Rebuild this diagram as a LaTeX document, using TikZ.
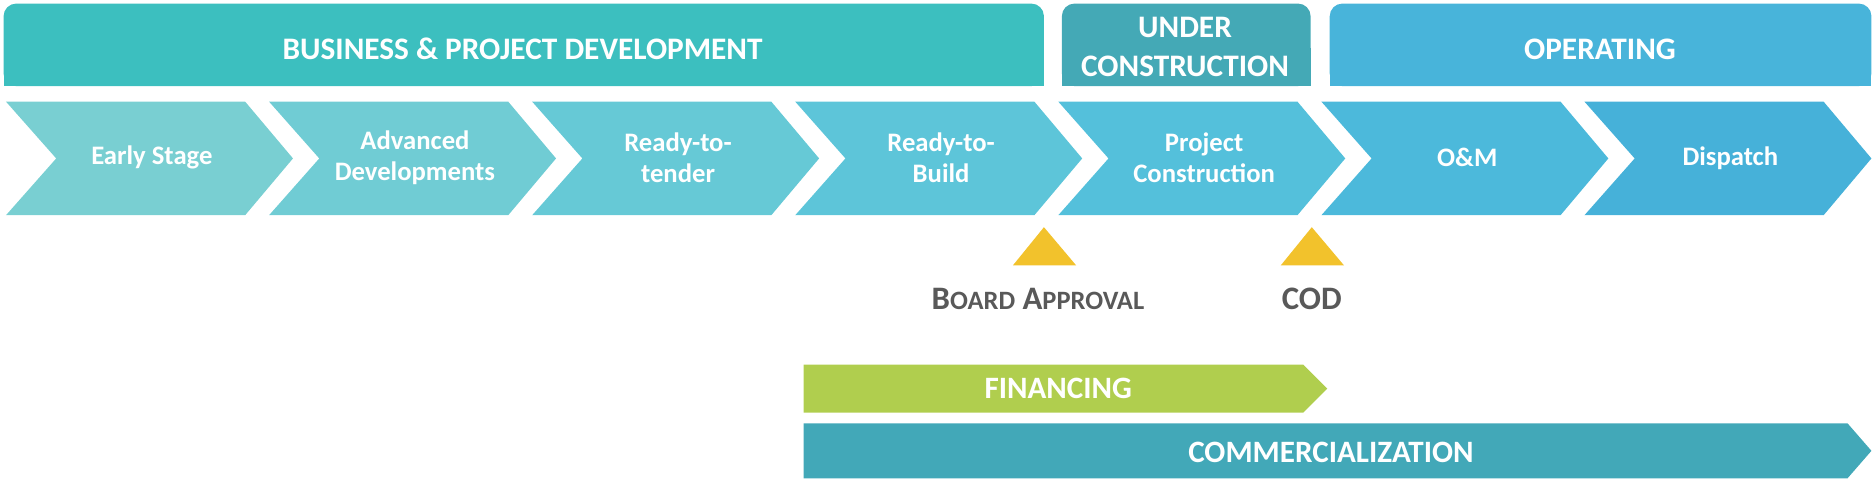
\documentclass[tikz,border=0pt]{standalone}
\usepackage{fontspec}
\setmainfont{Carlito}
\definecolor{bizteal}{HTML}{3CBFBF}
\definecolor{buildteal}{HTML}{44A9B6}
\definecolor{opblue}{HTML}{48B4DA}
\definecolor{stageA}{HTML}{79CFD2}
\definecolor{stageB}{HTML}{70CCD4}
\definecolor{stageC}{HTML}{66C9D6}
\definecolor{stageD}{HTML}{5DC5D9}
\definecolor{stageE}{HTML}{54C0DB}
\definecolor{stageF}{HTML}{4CB9DB}
\definecolor{stageG}{HTML}{46B1D9}
\definecolor{mileyellow}{HTML}{F2C22C}
\definecolor{fingreen}{HTML}{B0CE4E}
\definecolor{comteal}{HTML}{42A8B8}
\definecolor{labelgray}{HTML}{595959}
\begin{document}
\begin{tikzpicture}[x=0.02cm, y={(0cm,-0.02cm)},
  bannertext/.style={text=white, font=\bfseries\fontsize{14.9}{18.5}\selectfont, align=center},
  stagetext/.style={text=white, font=\bfseries\fontsize{12.7}{14.5}\selectfont, align=center},
  miletext/.style={text=labelgray, font=\bfseries\fontsize{15.6}{18}\selectfont},
  bartext/.style={text=white, font=\bfseries\fontsize{14.8}{17}\selectfont}]
\useasboundingbox (0,0) rectangle (1568,411);
% phase banners
\fill[bizteal, rounded corners=6] (3,3) rectangle (873,72);
\fill[bizteal] (3,40) rectangle (873,72);
\fill[buildteal, rounded corners=6] (888,3) rectangle (1096,72);
\fill[buildteal] (888,40) rectangle (1096,72);
\fill[opblue, rounded corners=6] (1112,3) rectangle (1565,72);
\fill[opblue] (1112,40) rectangle (1565,72);
\node[bannertext] (bizdev) at (437,41) {BUSINESS \& PROJECT DEVELOPMENT};
\node[bannertext] (undercon) at (991,39) {UNDER\\CONSTRUCTION};
\node[bannertext] (operating) at (1338,41) {OPERATING};
% stage chevrons
\foreach \c/\nm/\txt [count=\i from 0] in {stageA/early/Early Stage, stageB/advanced/{Advanced\\Developments},
    stageC/tender/{Ready-to-\\tender}, stageD/build/{Ready-to-\\Build}, stageE/construction/{Project\\Construction},
    stageF/om/O\&M, stageG/dispatch/Dispatch}{
  \pgfmathsetmacro\L{5+220*\i}
  \fill[\c] (\L,85) -- ++(200,0) -- ++(40,47.5) -- ++(-40,47.5) -- ++(-200,0) -- ++(42,-47.5) -- cycle;
  \node[stagetext] (\nm) at (\L+122,132) {\txt};
}
% milestones
\fill[mileyellow] (847,222) -- (873,190) -- (900,222) -- cycle;
\fill[mileyellow] (1071,222) -- (1097,190) -- (1124,222) -- cycle;
\node[miletext] (board) at (868,250) {B{\fontsize{12.6}{14}\selectfont OARD} A{\fontsize{12.6}{14}\selectfont PPROVAL}};
\node[miletext] (cod) at (1097,250) {COD};
% bars
\fill[fingreen] (672,305) -- (1090,305) -- (1110,325) -- (1090,345) -- (672,345) -- cycle;
\fill[comteal] (672,354) -- (1545,354) -- (1565,377) -- (1545,400) -- (672,400) -- cycle;
\node[bartext] (financing) at (885,325) {FINANCING};
\node[bartext] (commercial) at (1113,378) {COMMERCIALIZATION};
\end{tikzpicture}
\end{document}
